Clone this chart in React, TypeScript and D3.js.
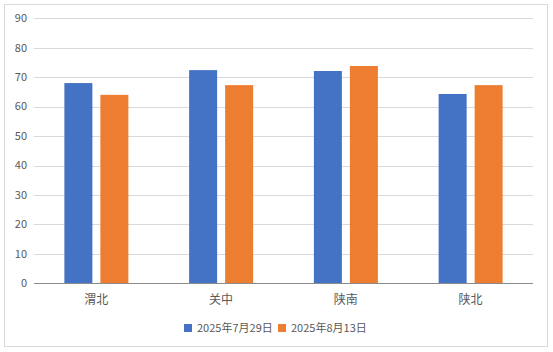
import React from "react";
import * as d3 from "d3";

const categories = ["渭北", "关中", "陕南", "陕北"];
const seriesNames = ["2025年7月29日", "2025年8月13日"];
const series1 = [68.0, 72.4, 72.1, 64.3];
const series2 = [64.0, 67.3, 73.8, 67.3];
const yTicks = [0, 10, 20, 30, 40, 50, 60, 70, 80, 90];
const colors = ["#4472C4", "#ED7D31"];

const W = 553;
const H = 352;
const left = 34;
const right = 533;
const top = 18.3;
const bottom = 283.3;
const font = "'Noto Sans CJK SC', 'Noto Sans', sans-serif";

export default function App() {
  const x = d3.scaleBand<string>().domain(categories).range([left, right]);
  const y = d3.scaleLinear().domain([0, 90]).range([bottom, top]);
  const barW = 28;
  const gap = 8;
  const allSeries = [series1, series2];
  return (
    <svg width={W} height={H} style={{ position: "absolute", left: 0, top: 0 }}>
      <rect x={0} y={0} width={W} height={H} fill="#fff" />
      <rect x={4.5} y={4.5} width={543} height={342} fill="#fff" stroke="#d9d9d9" />
      {yTicks.map((t) => (
        <g key={t}>
          {t !== 0 && (
            <line x1={left} x2={right} y1={Math.round(y(t)) + 0.5} y2={Math.round(y(t)) + 0.5} stroke="#d9d9d9" />
          )}
          <text x={27} y={y(t)} dy="0.35em" textAnchor="end" fontSize={11} fill="#595959" fontFamily={font}>
            {t}
          </text>
        </g>
      ))}
      {categories.map((c, i) => {
        const cx = x(c)! + x.bandwidth() / 2;
        return (
          <g key={c}>
            {allSeries.map((s, j) => {
              const bx = j === 0 ? cx - gap / 2 - barW : cx + gap / 2;
              return (
                <rect key={j} x={bx} y={y(s[i])} width={barW} height={y(0) - y(s[i])} fill={colors[j]} />
              );
            })}
            <text x={cx} y={300} dy="0.35em" textAnchor="middle" fontSize={12} fill="#595959" fontFamily={font}>
              {c}
            </text>
          </g>
        );
      })}
      <line x1={left} x2={right} y1={283.5} y2={283.5} stroke="#8c8c8c" />
      {seriesNames.map((n, j) => {
        const lx = j === 0 ? 184 : 278;
        return (
          <g key={n}>
            <rect x={lx} y={324} width={8} height={8} fill={colors[j]} />
            <text x={lx + 13} y={328} dy="0.35em" fontSize={11} fill="#595959" fontFamily={font}>
              {n}
            </text>
          </g>
        );
      })}
    </svg>
  );
}
